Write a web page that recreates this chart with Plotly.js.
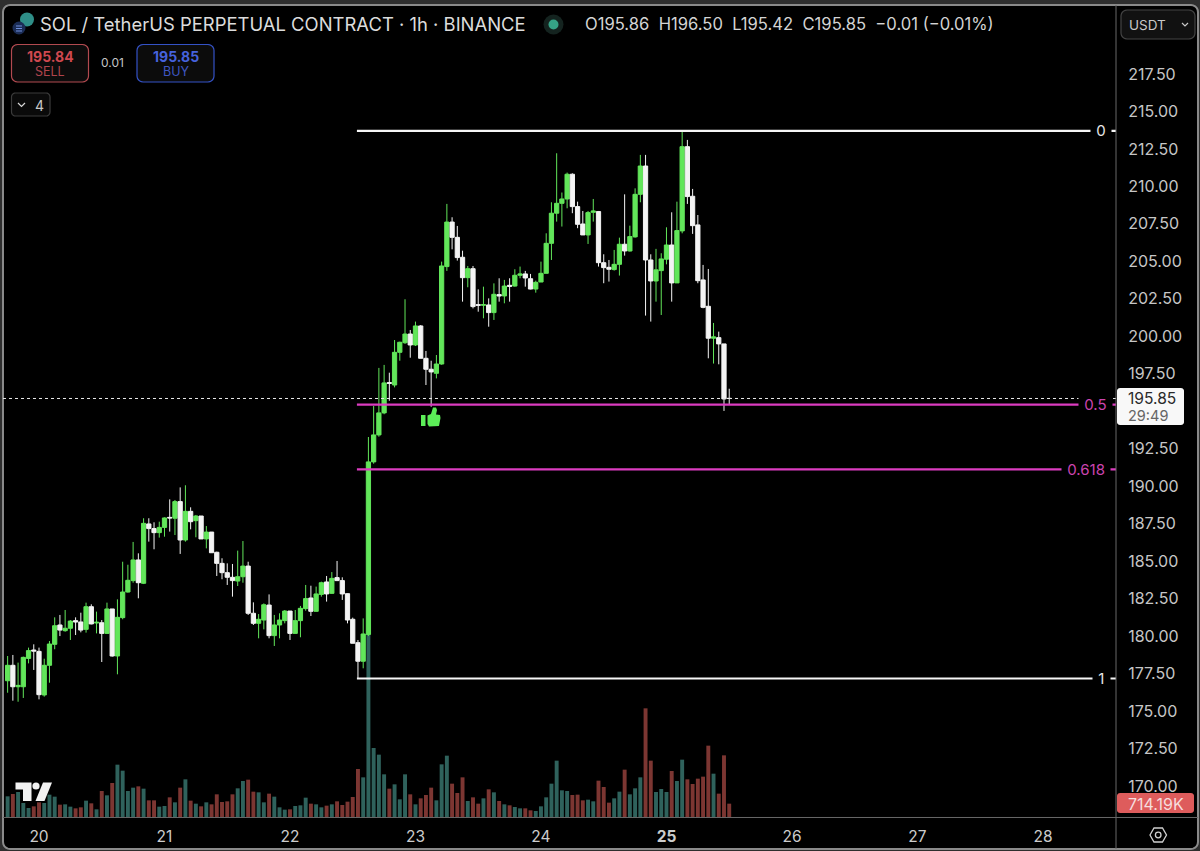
<!DOCTYPE html>
<html>
<head>
<meta charset="utf-8">
<script src="https://cdn.plot.ly/plotly-3.0.1.min.js"></script>
<style>html,body{margin:0;padding:0;background:#2e2e2e;overflow:hidden}#chart{width:1200px;height:851px}</style>
</head>
<body>
<div id="chart"></div>
<script>
// ---- chart values (one candle per hour) ----
const firstHour = -6; // hours relative to the "20" day tick
const opens = [177.02,178.05,176.62,176.62,178.51,179.07,
178.98,176.07,178.05,179.45,180.74,180.36,180.52,181.03,180.94,180.45,
181.96,180.87,180.89,180.18,181.81,178.67,181.23,182.94,183.70,185.08,
183.52,187.48,187.17,186.90,187.25,187.92,187.86,188.97,186.41,188.32,
187.70,188.01,186.48,186.94,185.59,184.85,184.23,183.92,183.67,183.96,
184.67,181.52,180.85,181.07,182.07,180.03,180.74,181.03,181.67,180.18,
181.03,181.83,182.54,181.65,182.78,183.61,182.85,183.90,183.70,182.83,
181.12,179.56,178.32,180.11,191.62,193.42,194.89,196.91,196.75,198.93,
199.57,200.15,199.42,200.69,198.53,197.80,197.53,198.15,204.65,207.62,
206.60,205.27,203.91,204.51,202.11,202.07,202.09,201.58,202.78,202.69,
203.40,203.35,204.07,204.16,203.84,203.15,203.62,204.20,206.20,208.21,
208.87,209.16,210.81,208.65,207.49,206.76,208.27,208.32,204.91,204.60,
204.45,204.80,206.14,205.69,206.63,209.47,211.36,205.09,203.69,204.38,
205.14,206.09,203.56,207.03,212.65,209.34,207.43,203.76,202.00,199.87,
199.91,199.49,195.86];
const closes = [178.05,176.62,176.71,178.58,179.03,179.00,
176.09,178.05,179.47,180.69,180.40,180.52,181.00,180.94,180.40,181.96,
180.81,180.92,180.18,181.81,178.67,181.25,182.94,183.72,185.08,183.56,
187.52,187.17,186.90,187.25,187.88,187.88,188.97,186.41,188.32,187.63,
188.01,186.48,186.94,185.56,184.85,184.23,183.92,183.70,183.96,184.67,
181.52,180.85,181.12,182.09,180.03,180.74,181.07,181.67,180.18,181.03,
181.85,182.50,181.65,182.81,183.56,182.81,183.85,183.70,182.81,181.07,
179.52,178.32,180.14,191.62,193.42,194.89,196.89,196.86,198.93,199.60,
200.15,199.42,200.69,198.53,197.80,197.62,198.15,204.69,207.62,206.60,
205.25,203.91,204.51,201.98,202.07,202.11,201.58,202.80,202.69,203.35,
203.33,204.07,204.16,203.89,203.15,203.60,204.20,206.20,208.21,208.87,
209.16,210.81,208.65,207.47,206.76,208.25,208.36,204.91,204.58,204.47,
204.80,206.14,205.69,206.65,209.47,211.36,205.09,203.69,204.43,205.16,
206.09,203.56,207.05,212.65,209.32,207.38,203.71,201.93,199.87,199.96,
199.49,195.82,195.85];
const highs = [178.67,178.74,178.23,178.63,179.23,179.45,
179.23,178.49,179.67,181.25,181.41,181.74,181.07,181.25,181.56,182.23,
182.12,181.63,181.07,182.23,181.81,182.45,184.96,184.76,186.28,185.52,
187.86,187.86,187.59,187.63,187.92,189.12,189.08,189.92,190.06,188.59,
188.08,188.01,187.34,186.94,185.63,185.19,184.85,184.81,185.70,186.34,
184.96,182.25,181.47,182.18,182.78,181.41,181.52,181.74,181.67,181.74,
182.01,183.41,183.36,183.30,183.63,184.01,184.27,185.01,183.92,182.85,
181.23,179.74,181.18,193.28,195.35,197.89,198.09,197.57,199.75,199.64,
202.47,200.42,200.98,200.75,199.02,198.37,198.75,204.98,208.83,207.94,
207.36,205.71,204.69,204.69,203.13,203.31,202.53,203.53,203.87,203.76,
203.87,204.47,204.65,204.36,204.16,203.71,204.98,206.87,208.94,212.21,
209.59,210.92,210.87,208.98,208.36,208.36,209.16,208.36,205.47,205.09,
205.76,206.58,209.47,207.38,209.87,212.10,212.10,205.47,205.83,205.54,
207.27,208.27,208.98,213.65,213.10,209.83,208.09,204.76,204.49,200.89,
200.31,199.49,196.50];
const lows = [176.22,175.69,175.62,175.87,178.18,177.74,
175.78,175.96,176.89,179.12,180.00,180.29,179.74,180.07,180.25,180.23,
180.78,180.18,178.27,180.14,178.63,177.45,181.12,182.90,183.56,182.52,
183.47,186.30,185.79,186.57,186.63,186.97,186.74,185.48,186.30,187.12,
186.59,186.48,185.85,185.56,184.01,183.79,183.41,182.63,183.34,183.56,
181.41,180.74,179.85,180.45,179.85,179.34,179.85,180.85,179.74,180.18,
179.92,181.69,181.34,181.63,182.63,182.30,182.81,183.67,182.41,180.85,
179.52,177.20,177.85,180.00,191.50,193.30,194.80,195.70,196.59,198.37,
199.49,198.57,199.35,198.53,196.75,195.30,197.19,198.10,204.36,205.80,
205.05,202.31,203.27,201.86,201.64,201.20,200.64,201.09,202.31,202.20,
202.31,203.31,203.87,203.31,203.13,202.91,203.62,204.20,205.09,207.65,
207.32,208.54,208.21,207.21,206.76,206.16,207.65,204.65,203.54,203.65,
204.38,204.05,205.38,205.65,206.58,208.94,201.38,200.98,202.31,201.42,
204.80,202.31,203.56,206.87,208.83,206.83,203.54,201.87,198.53,198.18,
198.13,195.02,195.42];
const volumesK = [1107,1232,1339,750,482,571,
785,750,1196,1089,660,678,553,464,518,875,
732,411,1392,1160,1821,2802,2481,1392,1571,1642,
1517,892,892,553,589,1053,785,1571,2017,875,
714,571,785,678,1214,803,839,1214,1535,1928,
1999,1357,1321,785,1250,1089,518,393,411,589,
625,1035,714,678,518,607,678,839,643,821,
1071,2570,2124,9996,3695,3338,2285,1517,1749,946,
2285,1214,678,1000,1178,1571,892,2820,3284,1785,
1285,2124,857,1053,714,1000,1482,1321,857,678,
625,535,464,464,357,321,571,1053,1785,3017,
1428,1392,1178,1196,892,928,839,1946,1606,768,
1000,1357,2535,1214,1535,2124,5819,3017,1339,1499,
1339,2463,1928,3070,2017,1767,2053,2160,3820,2320,
1250,3302,714];
const dayTickHours = [0,24,48,72,96,120,144,168,192];
const dayTickLabels = ['20','21','22','23','24','<b>25</b>','26','27','28'];
const priceTicks = [170,172.5,175,177.5,180,182.5,185,187.5,190,192.5,197.5,200,202.5,205,207.5,210,212.5,215,217.5];
const fibLabels = ['0','0.5','0.618','1'];
const fibPrices = [213.70,195.435,191.12,177.17];
const fibColors = ['#f6f6f6','#dc3cc0','#dc3cc0','#f6f6f6'];
const fibLabelColors = ['#e6e6e6','#cc44b0','#cc44b0','#e6e6e6'];
const fibStartHour = 60.8;
const lastPrice = 195.85;
const hours = opens.map((_, k) => k + firstHour);

// ---- layout helpers: window pixels to paper fractions ----
const L = 3, R = 1116, T = 14, B = 817;
const px = x => (x - L) / (R - L);
const py = y => (B - y) / (B - T);
const xRange = [-6.885, 205.97];
const P = (x, y) => px(x).toFixed(5) + ',' + py(y).toFixed(5);
const poly = pts => 'M' + pts.map(p => P(p[0], p[1])).join(' L') + ' Z';
const line2 = pts => 'M' + pts.map(p => P(p[0], p[1])).join(' L');
const rrect = (x0, y0, x1, y1, r) => {
  const pts = [];
  const arc = (cx, cy, a0) => { for (let k = 0; k <= 5; k++) { const a = (a0 + k * 18) * Math.PI / 180; pts.push([cx + r * Math.cos(a), cy + r * Math.sin(a)]); } };
  arc(x1 - r, y0 + r, -90); arc(x1 - r, y1 - r, 0); arc(x0 + r, y1 - r, 90); arc(x0 + r, y0 + r, 180);
  return poly(pts);
};
const pshape = (path, fill, stroke, width, layer) => ({type:'path', xref:'paper', yref:'paper', path, fillcolor: fill || 'rgba(0,0,0,0)', line:{color: stroke || 'rgba(0,0,0,0)', width: width === undefined ? 1 : width}, layer: layer || 'above'});
const circ = (cx, cy, r, fill, stroke, w) => ({type:'circle', xref:'paper', yref:'paper', x0:px(cx-r), x1:px(cx+r), y0:py(cy+r), y1:py(cy-r), fillcolor:fill, line:{color:stroke||'rgba(0,0,0,0)', width:w===undefined?0:w}});
const FONT = 'Inter, "Noto Sans", sans-serif';
const txt = (text, x, y, size, color, anchor, extra) => Object.assign({xref:'paper', yref:'paper', x:px(x), y:py(y), text, showarrow:false, xanchor:anchor||'left', yanchor:'middle', font:{family:FONT, size, color}, borderpad:0}, extra||{});

// ---- traces ----
const isUp = opens.map((o, k) => closes[k] >= o);
const volumeTrace = {type:'bar', x:hours, y:volumesK, yaxis:'y', xaxis:'x', marker:{color:isUp.map(u => u ? '#2f625c' : '#7c3632'), line:{width:0}}, hoverinfo:'skip'};
const candleTrace = {type:'candlestick', x:hours, open:opens, high:highs, low:lows, close:closes, yaxis:'y2', xaxis:'x', whiskerwidth:0,
  increasing:{line:{color:'#62e65a', width:1}, fillcolor:'#62e65a'},
  decreasing:{line:{color:'#f4f4f4', width:1}, fillcolor:'#f4f4f4'}, hoverinfo:'skip'};

// ---- shapes ----
const shapes = [
  pshape(rrect(3, 5, 1198, 849, 7), '#000000', '#8a8a8a', 2, 'below'),
  {type:'line', xref:'paper', yref:'y2', x0:0, x1:1, y0:lastPrice, y1:lastPrice, line:{color:'#e8e8e8', width:1, dash:'dot'}}
];
fibPrices.forEach((p, k) => shapes.push({type:'line', xref:'x', yref:'y2', x0:fibStartHour, x1:xRange[1], y0:p, y1:p, line:{color:fibColors[k], width:2.2}}));
shapes.push(
  // panel dividers
  pshape(line2([[1116,5],[1116,849]]), null, '#686868', 1),
  pshape(line2([[3,817.5],[1198,817.5]]), null, '#686868', 1),
  // last price tag and volume tag
  pshape(rrect(1117,388,1184,425,3), '#f8f8f8', null, 0),
  pshape(rrect(1117,793,1194,813,3), '#de5c5c', null, 0),
  // buy / sell buttons
  pshape(rrect(11.5,44.5,88.5,82,6), '#0c0c0c', '#b24a50', 1.2),
  pshape(rrect(137,44.5,214,82,6), '#0c0c0c', '#3452c6', 1.2),
  pshape(rrect(11.5,93,50,116,4), '#0a0a0a', '#3a3a3a', 1.2),
  pshape(line2([[18,103],[21.5,106.5],[25,103]]), null, '#d8d8d8', 1.2),
  // currency box
  pshape(rrect(1121,10,1195,39,6), '#111111', '#444444', 1.2),
  pshape(line2([[1182,23],[1185,26],[1188,23]]), null, '#c8c8c8', 1.2),
  // symbol icon
  circ(27,19.5,7,'#2f8f88'),
  circ(19,28,6.5,'#1b2d56'),
  pshape(line2([[16,26],[22,26]]), null, '#6f8fdc', 1),
  pshape(line2([[16,28.5],[22,28.5]]), null, '#6f8fdc', 1),
  pshape(line2([[16,31],[22,31]]), null, '#6f8fdc', 1),
  // market status dot
  circ(553.5,24.5,10,'#14231f'),
  circ(553.5,24.5,5,'#35a285'),
  // thumbs up drawing
  pshape(poly([[421,415],[425.5,415],[425.5,426],[421,426]]), '#5cee58', null, 0),
  pshape(poly([[427.5,415.5],[431,414],[433,407.5],[436,407.5],[437,410],[436,414.5],[440,415],[440.5,418],[439,426],[429,426.5],[427.5,424]]), '#5cee58', null, 0),
  // TradingView mark
  pshape(poly([[15.5,782.5],[31.5,782.5],[31.5,801],[23,801],[23,789.5],[15.5,789.5]]), '#f2f2f2', null, 0),
  circ(36,786,3.6,'#f2f2f2'),
  pshape(poly([[43,782.5],[52,782.5],[44.5,801],[35.5,801]]), '#f2f2f2', null, 0),
  // settings icon
  pshape(poly([[1150,835],[1154,828],[1162.5,828],[1166.5,835],[1162.5,842],[1154,842]]), null, '#d0d0d0', 1.3),
  circ(1158.2,835,2.8,'rgba(0,0,0,0)','#d0d0d0',1.3)
);

// ---- text ----
const fibLabelX = [1101,1095,1086,1101];
const annotations = [
  txt('SOL / TetherUS PERPETUAL CONTRACT · 1h · BINANCE', 39, 24, 18.45, '#dcdcdc'),
  txt('O195.86  H196.50  L195.42  C195.85  −0.01 (−0.01%)', 584, 24, 16.6, '#d4d4d4'),
  txt('<b>195.84</b>', 50, 57, 14, '#d0484f', 'center'),
  txt('SELL', 50, 71.5, 12.5, '#b0444c', 'center'),
  txt('0.01', 112.5, 62, 12, '#c4c4c4', 'center'),
  txt('<b>195.85</b>', 175.5, 57, 14, '#4662dc', 'center'),
  txt('BUY', 175.5, 71.5, 12.5, '#3f56c0', 'center'),
  txt('4', 39.5, 105, 14, '#c8c8c8', 'center'),
  txt('USDT', 1128, 25, 13.5, '#c8c8c8'),
  txt('195.85', 1127, 398, 15.6, '#2a2a2a'),
  txt('29:49', 1127, 415, 14.5, '#666666'),
  txt('714.19K', 1127, 803.5, 16, '#f6dede')
];
fibLabels.forEach((s, k) => annotations.push({xref:'paper', yref:'y2', x:px(fibLabelX[k]), y:fibPrices[k], text:'&nbsp;' + s + '&nbsp;', showarrow:false, xanchor:'center', yanchor:'middle', bgcolor:'#000000', borderpad:1, font:{family:FONT, size:15, color:fibLabelColors[k]}}));

const layout = {
  width:1200, height:851, showlegend:false, dragmode:false, bargap:0.25, hovermode:false,
  boxgap:0.1, boxgroupgap:0.1,
  paper_bgcolor:'#2e2e2e', plot_bgcolor:'rgba(0,0,0,0)',
  margin:{l:L, r:1200-R, t:T, b:851-B, pad:0},
  xaxis:{range:xRange, rangeslider:{visible:false}, showgrid:false, zeroline:false, showline:false,
    tickmode:'array', tickvals:dayTickHours, ticktext:dayTickLabels, ticks:'outside', ticklen:5, tickcolor:'rgba(0,0,0,0)',
    tickfont:{family:FONT, size:15.5, color:'#cccccc'}},
  yaxis:{range:[0,43000], visible:false, fixedrange:true},
  yaxis2:{overlaying:'y', side:'right', anchor:'x', range:[167.93,221.50], showgrid:false, zeroline:false, showline:false,
    tickmode:'array', tickvals:priceTicks, tickformat:'.2f', ticks:'outside', ticklen:8, tickcolor:'rgba(0,0,0,0)',
    tickfont:{family:FONT, size:16, color:'#c6c6c6'}},
  shapes, annotations
};
Plotly.newPlot('chart', [volumeTrace, candleTrace], layout, {displayModeBar:false, staticPlot:true});
</script>
</body>
</html>
